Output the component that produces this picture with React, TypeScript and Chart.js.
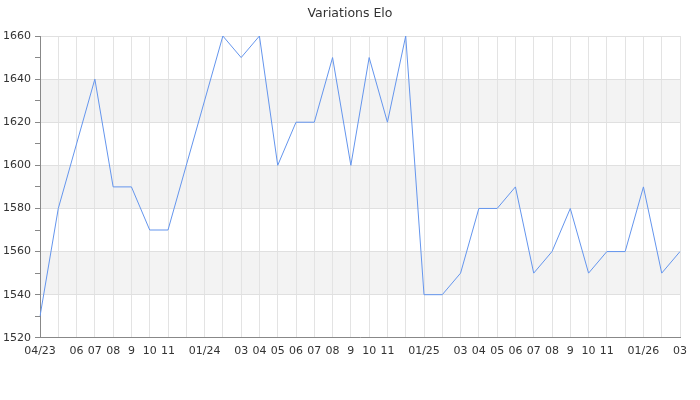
import React, { useEffect, useRef } from "react";
import { Chart, registerables } from "chart.js";

Chart.register(...registerables);

const TITLE = "Variations Elo";

const months: string[] = [
  "04/23", "05/23", "06/23", "07/23", "08/23", "09/23", "10/23", "11/23", "12/23",
  "01/24", "02/24", "03/24", "04/24", "05/24", "06/24", "07/24", "08/24", "09/24", "10/24", "11/24", "12/24",
  "01/25", "02/25", "03/25", "04/25", "05/25", "06/25", "07/25", "08/25", "09/25", "10/25", "11/25", "12/25",
  "01/26", "02/26", "03/26",
];

const tickLabels: string[] = [
  "04/23", "", "06", "07", "08", "9", "10", "11", "",
  "01/24", "", "03", "04", "05", "06", "07", "08", "9", "10", "11", "",
  "01/25", "", "03", "04", "05", "06", "07", "08", "9", "10", "11", "",
  "01/26", "", "03",
];

const elo: (number | null)[] = [
  1530, 1580, null, 1640, 1590, 1590, 1570, 1570, null,
  null, 1660, 1650, 1660, 1600, 1620, 1620, 1650, 1600, 1650, 1620, 1660,
  1540, 1540, 1550, 1580, 1580, 1590, 1550, 1560, 1580, 1550, 1560, 1560,
  1590, 1550, 1560,
];

const bands: [number, number][] = [
  [1540, 1560],
  [1580, 1600],
  [1620, 1640],
];

const FONT = "'DejaVu Sans', sans-serif";

const bandPlugin = {
  id: "bands",
  beforeDraw(chart: any) {
    const { ctx, chartArea } = chart;
    const y = chart.scales.y;
    ctx.save();
    ctx.fillStyle = "#f3f3f3";
    for (const [a, b] of bands) {
      const top = y.getPixelForValue(b);
      const bot = y.getPixelForValue(a);
      ctx.fillRect(chartArea.left, top, chartArea.right - chartArea.left, bot - top);
    }
    ctx.restore();
  },
  afterDraw(chart: any) {
    const { ctx, width } = chart;
    ctx.save();
    ctx.fillStyle = "#333";
    ctx.font = `12.5px ${FONT}`;
    ctx.textAlign = "center";
    ctx.textBaseline = "alphabetic";
    ctx.fillText(TITLE, width / 2, 17);
    ctx.restore();
  },
};

export default function App() {
  const ref = useRef<HTMLCanvasElement>(null);
  useEffect(() => {
    const chart = new Chart(ref.current!, {
      type: "line",
      data: {
        labels: months,
        datasets: [
          {
            data: elo,
            borderColor: "#6495ed",
            borderWidth: 1,
            pointRadius: 0,
            tension: 0,
            spanGaps: true,
            fill: false,
          },
        ],
      },
      options: {
        responsive: false,
        animation: false,
        layout: { padding: { left: 0, right: 20, top: 36, bottom: 35 } },
        plugins: {
          legend: { display: false },
          tooltip: { enabled: false },
          title: { display: false },
        },
        scales: {
          x: {
            offset: false,
            grid: { color: "#e3e3e3", drawTicks: false },
            border: { color: "#888" },
            ticks: {
              autoSkip: false,
              maxRotation: 0,
              padding: 7,
              color: "#333",
              font: { family: FONT, size: 11 },
              callback: (_v: any, i: number) => tickLabels[i],
            },
          },
          y: {
            min: 1520,
            max: 1660,
            afterFit: (s: any) => {
              s.width = 40;
            },
            grid: {
              color: (c: any) => (c.tick && c.tick.value % 20 === 0 ? "#e0e0e0" : "transparent"),
              tickColor: "#888",
              tickLength: 5,
            },
            border: { color: "#888" },
            ticks: {
              stepSize: 10,
              padding: 4,
              color: "#333",
              font: { family: FONT, size: 11 },
              callback: (v: any) => (v % 20 === 0 ? String(v) : ""),
            },
          },
        },
      },
      plugins: [bandPlugin],
    });
    return () => chart.destroy();
  }, []);
  return (
    <div style={{ position: "fixed", left: 0, top: 0, width: 700, height: 400, background: "#fff" }}>
      <canvas ref={ref} width={700} height={400} />
    </div>
  );
}
